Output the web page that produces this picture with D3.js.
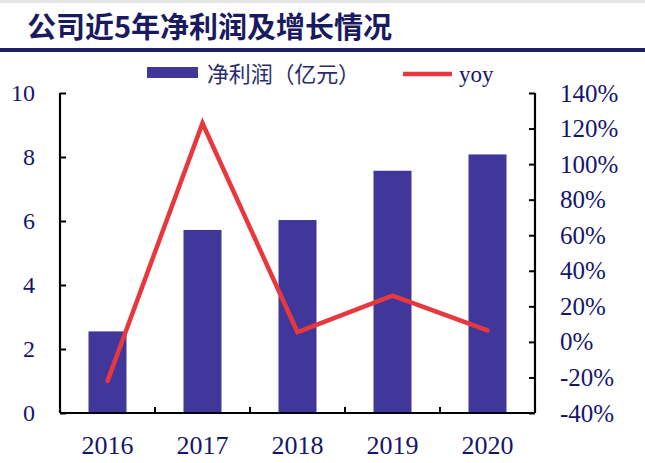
<!DOCTYPE html>
<html><head><meta charset="utf-8">
<script src="https://cdn.jsdelivr.net/npm/d3@7"></script>
<style>body{margin:0;background:#fff}svg{display:block}</style>
</head><body>
<svg id="c" width="645" height="463"></svg>
<script>
const years = ["2016","2017","2018","2019","2020"];
const profit = [2.55, 5.72, 6.03, 7.57, 8.08];
const yoy = [-22, 123, 5.5, 26, 6.5];
const leftTicks = [0,2,4,6,8,10];
const rightTicks = [-40,-20,0,20,40,60,80,100,120,140];

const svg = d3.select("#c");
const navy = "#15166b", barColor = "#41379a", red = "#e8383d";
const serif = "'Liberation Serif','Times New Roman',serif";
const cjk = "'Noto Sans CJK SC',sans-serif";
const L = 60, R = 535, T = 93, B = 413;

svg.append("rect").attr("x",0).attr("y",0).attr("width",645).attr("height",3).attr("fill","#e6e6e6");
svg.append("text").attr("x",27).attr("y",38).attr("fill","#1a1a60")
  .style("font-family",cjk).style("font-size","29px").style("font-weight","bold")
  .text("公司近5年净利润及增长情况");
svg.append("rect").attr("x",0).attr("y",48).attr("width",645).attr("height",4).attr("fill","#1f1f66");

const xb = d3.scaleBand().domain(years).range([L,R]);
const yL = d3.scaleLinear().domain([0,10]).range([B,T]);
const yR = d3.scaleLinear().domain([-40,140]).range([B,T]);

svg.append("g").selectAll("rect").data(years).join("rect")
  .attr("x",d=>xb(d)+xb.bandwidth()*0.3).attr("width",xb.bandwidth()*0.4)
  .attr("y",(d,i)=>yL(profit[i])).attr("height",(d,i)=>B-yL(profit[i]))
  .attr("fill",barColor);

const gl = svg.append("g").attr("transform",`translate(${L},0)`)
  .call(d3.axisLeft(yL).tickValues(leftTicks).tickSize(-6).tickPadding(25).tickFormat(d3.format("d")));
const gr = svg.append("g").attr("transform",`translate(${R},0)`)
  .call(d3.axisRight(yR).tickValues(rightTicks).tickSize(-6).tickPadding(25).tickFormat(d=>d+"%"));
const gb = svg.append("g").attr("transform",`translate(0,${B})`)
  .call(d3.axisBottom(xb).tickSize(0).tickPadding(23));
svg.append("g").selectAll("line").data(years.slice(1)).join("line")
  .attr("x1",d=>xb(d)).attr("x2",d=>xb(d)).attr("y1",B).attr("y2",B-6)
  .attr("stroke","#000").attr("stroke-width",2);

[gl,gr,gb].forEach(g=>{
  g.select(".domain").attr("stroke","#000").attr("stroke-width",2.2);
  g.selectAll(".tick line").attr("stroke","#000").attr("stroke-width",2);
  g.selectAll("text").attr("fill",navy).style("font-family",serif);
});
gl.selectAll("text").style("font-size","24px");
gr.selectAll("text").style("font-size","25px");
gb.selectAll("text").style("font-size","26px");
gl.select(".domain").attr("d",`M0,${T}V${B}`);
gr.select(".domain").attr("d",`M0,${T}V${B}`);
gb.select(".domain").attr("d",`M${L},0H${R}`);

const line = d3.line().x((d,i)=>xb(years[i])+xb.bandwidth()/2).y(d=>yR(d));
svg.append("path").datum(yoy).attr("d",line).attr("fill","none")
  .attr("stroke",red).attr("stroke-width",4.5).attr("stroke-linecap","round").attr("stroke-linejoin","miter");

// legend
const lg = svg.append("g");
lg.append("rect").attr("x",147).attr("y",67).attr("width",51).attr("height",11).attr("fill",barColor);
lg.append("text").attr("x",207).attr("y",82).attr("fill","#2a2a6e")
  .attr("textLength",153).attr("lengthAdjust","spacing")
  .style("font-family",cjk).style("font-size","22px").text("净利润（亿元）");
lg.append("line").attr("x1",403).attr("x2",452).attr("y1",74).attr("y2",74).attr("stroke",red).attr("stroke-width",4.5);
lg.append("text").attr("x",459).attr("y",82).attr("fill",navy)
  .style("font-family",serif).style("font-size","23px").text("yoy");
</script>
</body></html>
